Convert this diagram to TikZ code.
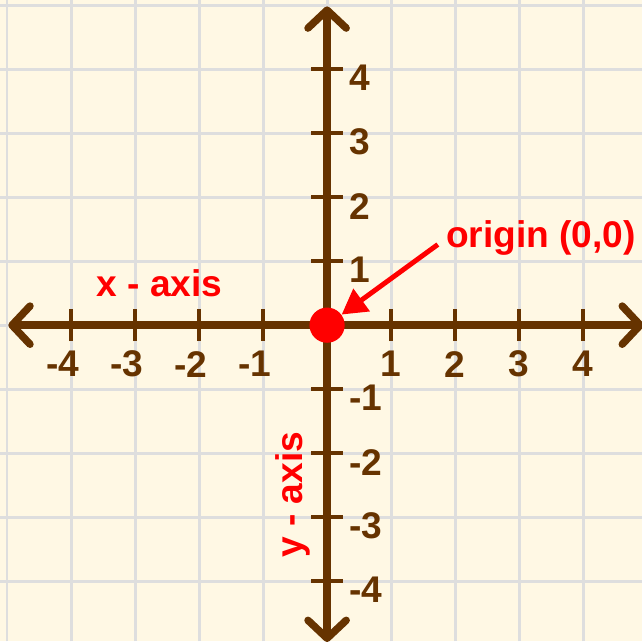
\documentclass[tikz,border=0pt]{standalone}
\usepackage{fontspec}
\setmainfont{Liberation Sans}
\usepackage{xcolor}
\usepackage{tikz}
\usetikzlibrary{arrows.meta,positioning}
\definecolor{axisbrown}{HTML}{663300}
\definecolor{paper}{HTML}{FFF8E4}
\definecolor{gridgray}{HTML}{DEDEDE}
\definecolor{pointred}{HTML}{FF0000}

\begin{document}
\begin{tikzpicture}[
  gridline/.style={draw=gridgray,line width=1.3pt},
  axisline/.style={draw=axisbrown,line width=3.3pt,{Straight Barb[round,length=8pt,width=17pt]}-{Straight Barb[round,length=8pt,width=17pt]}},
  tick/.style={draw=axisbrown,line width=1.9pt},
  num/.style={text=axisbrown,font=\fontsize{16.5}{18}\selectfont\bfseries,inner sep=0pt},
  lbl/.style={text=pointred,font=\fontsize{16.5}{18}\selectfont\bfseries,inner sep=0pt},
  dot/.style={circle,fill=pointred,minimum size=0.55cm,inner sep=0pt},
  pointer/.style={draw=pointred,line width=2.2pt,-{Triangle[length=11pt,width=12pt]}}
]
\fill[paper] (-5.11,-4.94) rectangle (4.92,5.08);
\useasboundingbox (-5.11,-4.94) rectangle (4.92,5.08);
\draw[gridline] (-5.11,-4.94) grid (4.92,5.08);

\coordinate (xleft) at (-4.98,0);
\coordinate (xright) at (4.95,0);
\coordinate (ytop) at (0,4.98);
\coordinate (ybottom) at (0,-4.95);
\draw[axisline] (xleft)--(xright);
\draw[axisline] (ybottom)--(ytop);

\foreach \i in {-4,-3,-2,-1,1,2,3,4} {
  \draw[tick] (\i,-0.25)--(\i,0.25);
  \draw[tick] (-0.25,\i)--(0.25,\i);
  \node[num,anchor=west] (yn\i) at (0.34,\i-0.14) {\i};
}
\foreach \i in {-4,-3,-2,-1} \node[num] (xn\i) at (\i-0.13,-0.61) {\i};
\foreach \i in {1,2,3,4} \node[num] (xn\i) at (\i,-0.61) {\i};

\node[dot] (origin) at (0,0) {};

\node[lbl,anchor=base] (xlabel) at (-2.62,0.44) {x - axis};
\node[lbl,anchor=base,rotate=90] (ylabel) at (-0.39,-2.65) {y - axis};
\node[lbl,anchor=base] (olabel) at (3.34,1.22) {origin (0,0)};

\coordinate (otail) at (1.73,1.26);
\draw[pointer] (otail)--(origin);
\end{tikzpicture}
\end{document}
